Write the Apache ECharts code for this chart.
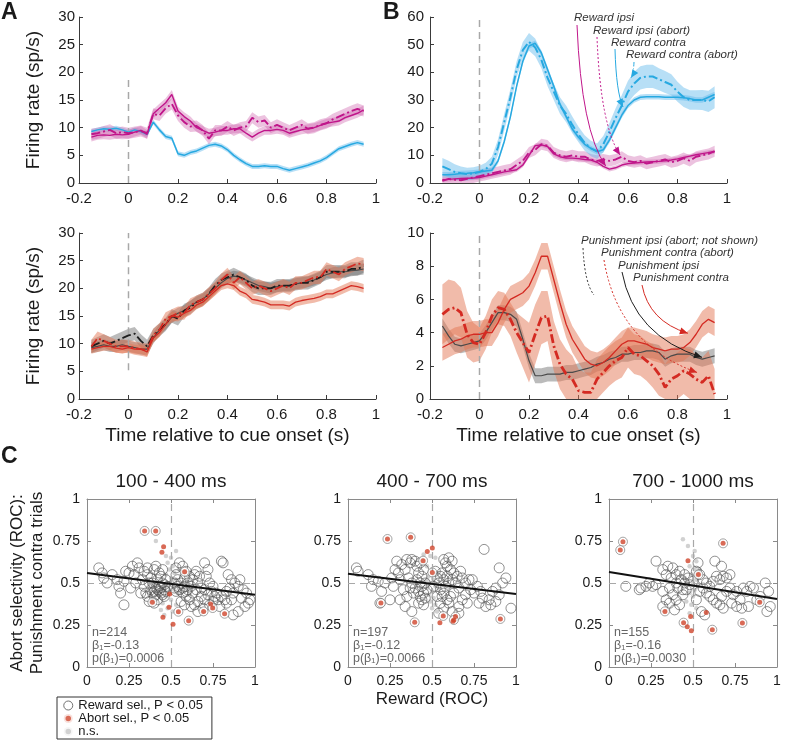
<!DOCTYPE html>
<html><head><meta charset="utf-8">
<script src="https://cdn.jsdelivr.net/npm/echarts@6/dist/echarts.min.js"></script>
<style>html,body{margin:0;padding:0;background:#fff}#c{width:788px;height:744px}</style>
</head><body><div id="c"></div>
<script>
// ---------- time axis ----------
const T = [-0.15,-0.125,-0.1,-0.075,-0.05,-0.025,0,0.025,0.05,0.075,
  0.1,0.125,0.15,0.175,0.2,0.225,0.25,0.275,0.3,0.325,
  0.35,0.375,0.4,0.425,0.45,0.475,0.5,0.525,0.55,0.575,
  0.6,0.625,0.65,0.675,0.7,0.725,0.75,0.775,0.8,0.825,
  0.85,0.875,0.9,0.925,0.95];

// ---------- Panel A top (reward) ----------
const aBlue = [9.3,9.6,9.8,9.7,9.9,9.6,9.2,9.6,9.3,8.8,
  11.0,9.6,8.4,8.1,5.3,5.0,5.5,5.8,6.3,6.8,
  7.0,6.7,6.0,5.0,4.2,3.5,3.0,3.0,3.1,3.0,
  3.0,2.6,2.3,2.6,2.9,3.2,3.6,4.0,4.6,5.4,
  6.2,6.6,7.0,7.3,7.0];
const aMagS = [8.3,8.6,8.7,8.6,8.8,8.7,8.8,9.2,9.5,8.8,
  12.5,13.5,14.5,16.0,13.0,12.0,11.2,10.0,9.5,9.0,
  9.2,9.5,9.5,9.8,9.8,9.0,8.3,9.0,9.5,9.5,
  9.7,9.5,9.0,9.3,9.6,9.8,10.0,10.4,10.8,11.0,
  11.2,11.8,12.2,12.6,13.2];
const aMagD = [8.8,9.0,9.3,9.6,9.0,9.2,9.0,9.2,9.4,9.0,
  12.5,12.2,13.5,14.3,12.2,11.0,10.2,10.3,9.5,8.0,
  9.5,9.5,10.2,9.5,10.0,10.2,11.8,11.0,11.3,10.0,
  10.5,10.0,9.5,10.0,10.5,9.8,10.0,10.5,10.8,11.5,
  12.0,12.5,13.0,13.4,13.0];
const aBlueBand = 0.45, aMagSBand = 0.8, aMagDBand = 1.0;

// ---------- Panel B top (reward) ----------
const bBlueS = [3.0,3.0,3.2,3.4,3.5,3.7,4.0,4.3,4.6,8.0,
  15.0,24.0,35.0,44.0,49.5,50.5,47.0,41.0,35.0,28.5,
  24.0,19.5,16.5,14.0,12.5,11.3,12.0,15.5,20.0,24.5,
  28.0,30.0,31.0,31.2,31.2,31.2,31.0,31.0,31.0,30.8,
  30.5,30.0,30.0,31.0,32.0];
const bBlueD = [6.0,5.0,4.0,3.5,3.2,3.5,4.0,5.0,7.0,13.0,
  22.0,31.0,41.0,48.0,51.0,49.0,44.5,38.0,33.0,28.0,
  25.0,21.0,17.5,14.5,12.5,11.5,14.0,18.5,23.5,28.0,
  33.0,36.0,38.0,38.5,38.5,37.5,36.5,35.5,33.0,31.0,
  30.0,30.0,30.0,29.5,31.0];
const bMagS = [1.2,1.3,1.5,1.6,1.7,1.8,2.0,2.5,3.0,3.5,
  4.0,4.4,4.8,6.5,10.0,13.5,13.8,13.2,10.5,9.5,
  9.0,9.0,8.8,8.5,8.3,7.5,6.0,5.0,5.5,6.5,
  7.0,7.2,7.4,7.6,7.7,7.8,8.0,8.3,8.7,9.2,
  9.7,10.2,10.6,11.0,11.3];
const bMagD = [0.8,1.5,1.2,1.0,1.5,2.0,2.5,3.0,3.5,4.0,
  4.5,5.0,6.5,8.0,11.0,12.0,14.0,13.5,11.0,10.0,
  9.5,10.0,9.5,9.5,8.5,8.0,8.5,8.0,8.5,9.5,
  8.0,7.5,8.0,7.0,7.5,8.0,8.5,7.5,8.0,9.0,
  8.0,9.5,10.0,10.5,11.5];
const bBlueSBand = 1.0, bMagSBand = 0.8, bMagDBand = 2.0;
const bBlueDBand = [3.0,3.0,2.8,2.5,2.3,2.2,2.2,2.3,2.5,2.8,
  3.0,3.0,3.0,3.0,3.2,3.2,3.0,3.0,3.0,3.0,
  3.0,3.0,2.8,2.8,2.8,2.8,3.0,3.2,3.5,3.8,
  4.0,4.2,4.2,4.2,4.2,4.0,4.0,3.8,3.6,3.5,
  3.5,3.5,3.6,3.8,4.0];

// ---------- Panel A bottom (punishment) ----------
const aGrayS = [9.3,9.5,9.8,9.5,9.5,9.8,9.5,9.3,9.0,9.0,
  11.0,12.5,13.5,14.8,15.5,16.0,16.8,17.5,18.0,19.0,
  20.0,21.0,21.8,22.2,22.0,21.5,21.0,20.5,20.3,20.0,
  20.3,20.5,20.5,20.8,21.0,21.2,21.5,22.0,22.5,22.8,
  23.0,23.0,23.2,23.3,23.5];
const aBlackD = [9.5,10.0,10.5,10.0,10.5,11.0,11.5,11.8,10.5,9.5,
  11.5,12.5,13.5,15.0,14.5,16.0,16.5,17.5,18.0,19.0,
  20.5,21.5,22.0,22.5,22.0,21.5,20.5,20.0,20.0,20.0,
  20.5,20.5,20.5,20.8,21.0,21.0,21.5,22.0,23.0,23.0,
  23.0,23.0,23.5,23.5,24.0];
const aRedD = [9.5,11.0,10.5,10.0,9.5,9.5,9.5,9.2,9.0,8.8,
  11.5,12.5,14.5,15.0,15.5,15.5,17.0,17.5,18.0,19.0,
  20.0,21.5,22.5,21.0,22.0,21.0,20.0,20.5,20.0,19.5,
  20.0,20.5,20.0,21.0,21.0,21.5,22.0,22.0,23.5,23.0,
  22.5,23.5,24.0,24.5,24.3];
const aRedS = [9.0,9.3,9.5,9.5,9.2,9.0,9.3,9.0,9.0,8.5,
  11.0,12.0,13.5,15.0,14.8,15.5,16.0,17.0,17.5,18.5,
  19.5,20.5,20.8,20.5,19.5,19.0,18.0,17.8,17.5,17.0,
  17.0,17.0,16.8,17.5,17.8,18.0,18.2,18.5,19.0,19.0,
  19.5,20.0,20.5,20.3,20.0];
const aGraySBand = 1.0, aBlackDBand = 1.2, aRedDBand = 1.2, aRedSBand = 0.8;

// ---------- Panel B bottom (punishment) ----------
const bRedS = [3.1,3.3,3.5,3.6,3.8,3.9,3.9,4.0,4.0,4.6,
  5.4,6.0,6.2,6.4,6.8,7.6,8.6,8.6,7.2,5.8,
  4.5,3.6,3.0,2.4,2.1,2.0,2.2,2.5,2.9,3.3,
  3.5,3.5,3.4,3.3,3.1,3.0,2.9,3.0,3.0,3.1,
  3.4,3.9,4.5,4.8,4.6];
const bGrayS = [4.4,3.8,3.3,3.2,3.3,3.4,3.5,4.0,4.6,5.2,
  5.2,5.1,4.8,3.6,2.3,1.4,1.4,1.5,1.5,1.5,
  1.6,1.6,1.7,1.8,1.9,2.1,2.2,2.4,2.5,2.7,
  2.7,2.8,2.8,2.9,2.9,2.8,2.4,2.6,2.7,2.7,
  2.7,2.5,2.4,2.5,2.6];
const bRedD = [5.1,5.4,5.5,5.2,3.9,3.4,3.3,4.0,5.0,5.5,
  5.4,4.8,4.0,3.4,2.8,3.9,4.9,5.0,3.2,2.1,
  1.5,1.2,0.5,0.4,0.4,1.2,1.6,2.0,2.3,2.5,
  3.1,2.7,2.6,2.3,2.0,1.5,0.7,1.2,1.4,1.7,
  1.5,1.2,1.0,1.4,0.3];
const bRedDBand = [1.8,1.8,1.6,1.5,1.4,1.2,1.0,1.0,1.0,1.0,
  1.0,1.0,1.2,1.5,1.8,1.8,1.6,1.5,1.5,1.5,
  1.5,1.4,1.3,1.2,1.2,1.2,1.2,1.2,1.2,1.2,
  1.2,1.2,1.2,1.2,1.3,1.3,1.4,1.4,1.4,1.4,
  1.5,1.5,1.5,1.5,1.5];
const bRedSBand = 0.8, bGraySBand = 0.45;

// cue-onset marker extents [yFrom, yTo]
const cueA1 = [0, 19.3], cueB1 = [0, 60], cueA2 = [5.2, 30], cueB2 = [0, 10];

// ---------- Panel C scatter ----------
const cTitles = ['100 - 400 ms', '400 - 700 ms', '700 - 1000 ms'];
const cN = [214, 197, 155];
const cBeta0 = [0.56, 0.555, 0.565];
const cBeta1 = [-0.13, -0.12, -0.16];
const cPval = ['0.0006', '0.0066', '0.0030'];

const c1Reward = [[0.07,0.59],[0.09,0.56],[0.10,0.53],[0.12,0.50],[0.15,0.55],[0.18,0.52],[0.19,0.48],[0.20,0.44],[0.22,0.51],[0.22,0.37],
 [0.23,0.57],[0.25,0.56],[0.26,0.47],[0.27,0.60],[0.28,0.55],[0.29,0.50],[0.30,0.62],[0.31,0.59],[0.32,0.44],[0.33,0.52],
 [0.34,0.57],[0.34,0.48],[0.35,0.44],[0.36,0.55],[0.36,0.42],[0.36,0.59],[0.37,0.50],[0.37,0.39],[0.38,0.46],[0.38,0.53],
 [0.39,0.44],[0.39,0.50],[0.40,0.42],[0.40,0.38],[0.40,0.58],[0.41,0.47],[0.41,0.60],[0.41,0.43],[0.42,0.52],[0.42,0.40],
 [0.43,0.56],[0.43,0.48],[0.43,0.45],[0.44,0.54],[0.44,0.44],[0.45,0.50],[0.45,0.58],[0.45,0.43],[0.46,0.46],[0.46,0.42],
 [0.47,0.52],[0.47,0.45],[0.48,0.48],[0.44,0.47],[0.46,0.49],[0.42,0.46],[0.40,0.45],
 [0.52,0.50],[0.53,0.59],[0.53,0.45],[0.53,0.55],[0.54,0.52],[0.55,0.62],[0.55,0.46],[0.56,0.50],[0.56,0.39],[0.57,0.60],
 [0.57,0.44],[0.58,0.48],[0.58,0.37],[0.58,0.53],[0.59,0.57],[0.59,0.42],[0.60,0.46],[0.60,0.50],[0.61,0.54],[0.61,0.40],
 [0.62,0.48],[0.62,0.36],[0.63,0.52],[0.63,0.44],[0.64,0.37],[0.64,0.55],[0.65,0.46],[0.65,0.57],[0.66,0.50],[0.66,0.39],
 [0.66,0.33],[0.67,0.54],[0.68,0.47],[0.68,0.42],[0.69,0.35],[0.70,0.62],[0.70,0.46],[0.70,0.40],[0.71,0.54],[0.72,0.58],
 [0.72,0.43],[0.73,0.50],[0.73,0.37],[0.74,0.45],[0.75,0.48],[0.75,0.39],[0.76,0.42],[0.77,0.44],[0.78,0.40],[0.79,0.36],
 [0.52,0.47],[0.54,0.48],[0.57,0.47],[0.59,0.45],
 [0.80,0.63],[0.80,0.42],[0.81,0.62],[0.82,0.40],[0.83,0.45],[0.83,0.38],[0.84,0.55],[0.85,0.47],[0.86,0.52],[0.86,0.40],
 [0.87,0.44],[0.87,0.31],[0.88,0.50],[0.90,0.48],[0.90,0.33],[0.91,0.52],[0.92,0.41],[0.93,0.46],[0.94,0.36],[0.95,0.44],
 [0.96,0.38],[0.97,0.40]];
const c1Both = [[0.343,0.810],[0.409,0.810],[0.581,0.567],[0.389,0.385],[0.544,0.329],[0.605,0.276],[0.694,0.331],[0.748,0.351],[0.819,0.317]];
const c1AbortOnly = [[0.456,0.716],[0.446,0.683],[0.492,0.435],[0.488,0.355],[0.452,0.296],[0.512,0.254],[0.736,0.375]];
const c1NS = [[0.41,0.75],[0.53,0.69],[0.48,0.62],[0.51,0.60],[0.49,0.58],[0.52,0.56],[0.47,0.55],[0.50,0.53],[0.53,0.52],[0.48,0.50],
 [0.51,0.49],[0.46,0.47],[0.52,0.46],[0.49,0.45],[0.54,0.44],[0.47,0.42],[0.50,0.40],[0.45,0.38],[0.53,0.37],[0.48,0.35],
 [0.51,0.33],[0.46,0.31],[0.44,0.34],[0.55,0.58],[0.50,0.65],[0.47,0.66]];

const c2Reward = [[0.05,0.59],[0.06,0.57],[0.12,0.55],[0.15,0.52],[0.14,0.48],[0.18,0.51],[0.20,0.45],[0.22,0.50],[0.19,0.38],[0.25,0.40],
 [0.27,0.48],[0.26,0.53],[0.30,0.56],[0.31,0.52],[0.28,0.58],[0.29,0.63],[0.32,0.61],[0.34,0.58],[0.35,0.64],[0.37,0.62],
 [0.38,0.64],[0.40,0.63],[0.41,0.60],[0.43,0.62],[0.42,0.56],[0.36,0.53],[0.38,0.50],[0.40,0.47],[0.42,0.45],[0.43,0.42],
 [0.44,0.40],[0.45,0.44],[0.44,0.48],[0.46,0.50],[0.41,0.52],[0.39,0.44],[0.33,0.46],[0.35,0.42],[0.34,0.36],[0.38,0.33],
 [0.42,0.38],[0.45,0.37],[0.46,0.41],[0.47,0.46],[0.43,0.50],[0.31,0.40],[0.37,0.47],[0.44,0.54],[0.45,0.58],
 [0.52,0.57],[0.53,0.53],[0.54,0.50],[0.55,0.54],[0.56,0.56],[0.57,0.52],[0.58,0.48],[0.60,0.50],[0.59,0.54],[0.61,0.58],
 [0.63,0.56],[0.62,0.52],[0.64,0.50],[0.65,0.54],[0.66,0.47],[0.63,0.44],[0.61,0.42],[0.59,0.40],[0.57,0.44],[0.55,0.46],
 [0.53,0.42],[0.55,0.38],[0.57,0.35],[0.60,0.38],[0.62,0.63],[0.59,0.60],[0.57,0.64],[0.60,0.65],[0.58,0.62],[0.67,0.57],
 [0.68,0.53],[0.70,0.50],[0.72,0.52],[0.73,0.46],[0.70,0.43],[0.68,0.40],[0.66,0.36],[0.71,0.38],[0.75,0.44],[0.77,0.48],
 [0.79,0.45],[0.80,0.41],[0.78,0.38],[0.82,0.36],[0.84,0.40],[0.86,0.45],[0.88,0.47],[0.90,0.43],[0.88,0.39],[0.85,0.37],
 [0.92,0.50],[0.94,0.53],[0.97,0.35],[0.90,0.59],[0.81,0.70],[0.74,0.52],[0.62,0.33],[0.54,0.32],[0.66,0.32],[0.51,0.48],[0.56,0.42]];
const c2Both = [[0.235,0.762],[0.373,0.772],[0.447,0.633],[0.502,0.563],[0.196,0.381],[0.397,0.266],[0.567,0.304],[0.640,0.300],[0.630,0.280],[0.907,0.286]];
const c2AbortOnly = [[0.472,0.688],[0.502,0.708],[0.547,0.264],[0.625,0.272]];
const c2NS = [[0.45,0.67],[0.49,0.66],[0.52,0.65],[0.47,0.60],[0.50,0.58],[0.53,0.56],[0.48,0.54],[0.51,0.52],[0.49,0.50],[0.52,0.48],
 [0.47,0.47],[0.50,0.45],[0.48,0.43],[0.51,0.41],[0.49,0.39],[0.52,0.37],[0.50,0.35],[0.53,0.33],[0.47,0.52],[0.54,0.46]];

const c3Reward = [[0.10,0.48],[0.18,0.46],[0.19,0.47],[0.22,0.48],[0.24,0.50],[0.26,0.48],[0.28,0.49],[0.28,0.63],[0.32,0.58],[0.35,0.60],
 [0.38,0.59],[0.40,0.55],[0.42,0.57],[0.43,0.52],[0.40,0.50],[0.37,0.53],[0.34,0.55],[0.36,0.47],[0.38,0.43],[0.40,0.40],
 [0.42,0.37],[0.44,0.43],[0.46,0.46],[0.41,0.47],[0.45,0.50],[0.45,0.55],[0.47,0.53],[0.48,0.49],[0.44,0.46],[0.32,0.45],
 [0.34,0.40],[0.36,0.38],[0.39,0.34],[0.32,0.36],
 [0.52,0.57],[0.54,0.55],[0.56,0.52],[0.58,0.50],[0.60,0.48],[0.62,0.51],[0.64,0.54],[0.66,0.52],[0.68,0.54],[0.70,0.53],
 [0.72,0.55],[0.63,0.63],[0.67,0.60],[0.56,0.47],[0.58,0.44],[0.60,0.42],[0.62,0.40],[0.64,0.38],[0.66,0.37],[0.68,0.35],
 [0.67,0.42],[0.70,0.45],[0.72,0.47],[0.74,0.43],[0.76,0.45],[0.78,0.40],[0.76,0.36],[0.73,0.38],[0.80,0.47],[0.82,0.45],
 [0.84,0.48],[0.86,0.47],[0.88,0.40],[0.90,0.42],[0.93,0.50],[0.95,0.45],[0.96,0.36],[0.94,0.33],[0.83,0.36],[0.79,0.35],
 [0.55,0.33],[0.57,0.31],[0.52,0.40],[0.54,0.45],[0.50,0.51],[0.53,0.62]];
const c3Both = [[0.083,0.746],[0.067,0.696],[0.679,0.736],[0.532,0.550],[0.333,0.331],[0.444,0.264],[0.615,0.222],[0.794,0.262],[0.897,0.385]];
const c3AbortOnly = [[0.470,0.633],[0.486,0.300],[0.466,0.240],[0.490,0.216],[0.579,0.325]];
const c3NS = [[0.44,0.76],[0.47,0.72],[0.51,0.69],[0.50,0.66],[0.52,0.63],[0.48,0.60],[0.51,0.58],[0.53,0.56],[0.49,0.55],[0.52,0.52],
 [0.50,0.50],[0.47,0.49],[0.53,0.48],[0.51,0.46],[0.48,0.44],[0.50,0.42],[0.46,0.39],[0.49,0.37],[0.52,0.35],[0.48,0.32],[0.54,0.58],[0.45,0.53]];

const legendNames = ['Reward sel., P < 0.05', 'Abort sel., P < 0.05', 'n.s.'];

// ---------- styles ----------
const FONT = '"Liberation Sans", Arial, Helvetica, sans-serif';
const TXT = '#1a1a1a', AX = '#3a3a3a', BOX = '#8a8a8a';
const BLUE = '#27a9e1', MAG = '#c0158a', RED = '#d42a22', GRAY = '#4a4a4a', BLACK = '#1e1e1e';
const BLUE_B = 'rgba(95,185,235,0.45)', MAG_B = 'rgba(205,95,170,0.38)', RED_B = 'rgba(228,120,85,0.5)', GRAY_B = 'rgba(105,105,105,0.45)';
const DASHDOT = [9, 3, 2, 3];
const RED_DOT = '#cf452c', GRAY_DOT = '#c6c6c6';

const chart = echarts.init(document.getElementById('c'));

const grids = [
  {left:79, top:17, width:297, height:166},
  {left:430, top:17, width:297, height:166},
  {left:79, top:233, width:297, height:166},
  {left:430, top:233, width:297, height:166},
  {left:87, top:499, width:168, height:168},
  {left:348, top:499, width:168, height:168},
  {left:609, top:499, width:168, height:168}
];
const yMaxes = [30, 60, 30, 10];

function tsX(gi, name) {
  return {gridIndex:gi, type:'value', min:-0.2, max:1, interval:0.2,
    axisLine:{onZero:false, lineStyle:{color:AX}}, axisTick:{inside:true, length:4, lineStyle:{color:AX}},
    axisLabel:{fontSize:15, color:TXT, margin:8, fontFamily:FONT}, splitLine:{show:false},
    name:name||'', nameLocation:'middle', nameGap:27, nameTextStyle:{fontSize:19, color:TXT, fontFamily:FONT}};
}
function tsY(gi, max, interval, name, margin) {
  return {gridIndex:gi, type:'value', min:0, max:max, interval:interval,
    axisLine:{show:true, onZero:false, lineStyle:{color:AX}}, axisTick:{show:true, inside:true, length:4, lineStyle:{color:AX}},
    axisLabel:{fontSize:15, color:TXT, margin:margin, fontFamily:FONT}, splitLine:{show:false},
    name:name||'', nameLocation:'middle', nameGap:36, nameTextStyle:{fontSize:19, color:TXT, fontFamily:FONT}};
}
function scAxis(gi, pos, showLabel, name, nameGap) {
  return {gridIndex:gi, type:'value', min:0, max:1, interval:0.25, position:pos,
    axisLine:{show:true, onZero:false, lineStyle:{color:BOX}}, axisTick:{show:true, inside:true, length:4, lineStyle:{color:BOX}},
    axisLabel:{show:showLabel, fontSize:14, color:TXT, margin:7, fontFamily:FONT}, splitLine:{show:false},
    name:name||'', nameLocation:'middle', nameGap:nameGap||20, nameTextStyle:{fontSize:17, color:TXT, fontFamily:FONT, lineHeight:20}};
}

const xAxes = [tsX(0), tsX(1), tsX(2,'Time relative to cue onset (s)'), tsX(3,'Time relative to cue onset (s)'),
  scAxis(4,'bottom',true), scAxis(5,'bottom',true,'Reward (ROC)',21), scAxis(6,'bottom',true),
  scAxis(4,'top',false), scAxis(5,'top',false), scAxis(6,'top',false)];
const yAxes = [tsY(0,30,5,'Firing rate (sp/s)',4), tsY(1,60,10,'',6), tsY(2,30,5,'Firing rate (sp/s)',4), tsY(3,10,2,'',6),
  scAxis(4,'left',true,'Abort selectivity (ROC):\nPunishment contra trials',40), scAxis(5,'left',true), scAxis(6,'left',true),
  scAxis(4,'right',false), scAxis(5,'right',false), scAxis(6,'right',false)];

const series = [];
const curves = [
  {g:0, m:aBlue, hw:aBlueBand, c:BLUE, bc:BLUE_B, d:'solid', w:1.5},
  {g:0, m:aMagS, hw:aMagSBand, c:MAG, bc:MAG_B, d:'solid', w:1.4},
  {g:0, m:aMagD, hw:aMagDBand, c:MAG, bc:MAG_B, d:DASHDOT, w:1.9},
  {g:1, m:bMagS, hw:bMagSBand, c:MAG, bc:MAG_B, d:'solid', w:1.4},
  {g:1, m:bMagD, hw:bMagDBand, c:MAG, bc:MAG_B, d:DASHDOT, w:1.9},
  {g:1, m:bBlueS, hw:bBlueSBand, c:BLUE, bc:BLUE_B, d:'solid', w:1.5},
  {g:1, m:bBlueD, hw:bBlueDBand, c:BLUE, bc:BLUE_B, d:DASHDOT, w:2},
  {g:2, m:aGrayS, hw:aGraySBand, c:GRAY, bc:GRAY_B, d:'solid', w:1.2},
  {g:2, m:aBlackD, hw:aBlackDBand, c:BLACK, bc:GRAY_B, d:DASHDOT, w:1.8},
  {g:2, m:aRedD, hw:aRedDBand, c:RED, bc:RED_B, d:DASHDOT, w:1.8},
  {g:2, m:aRedS, hw:aRedSBand, c:RED, bc:RED_B, d:'solid', w:1.3},
  {g:3, m:bGrayS, hw:bGraySBand, c:GRAY, bc:GRAY_B, d:'solid', w:1.2},
  {g:3, m:bRedD, hw:bRedDBand, c:RED, bc:RED_B, d:DASHDOT, w:2.8},
  {g:3, m:bRedS, hw:bRedSBand, c:RED, bc:RED_B, d:'solid', w:1.3}
];
// error bands: polygons through the axis scales
curves.forEach(cv => {
  const ymax = yMaxes[cv.g];
  const clamp = v => Math.max(0, Math.min(ymax, v));
  series.push({type:'custom', xAxisIndex:cv.g, yAxisIndex:cv.g, silent:true, z:1,
    data:[[T[0], cv.m[0]]],
    renderItem: function (params, api) {
      const up = [], lo = [];
      for (let i = 0; i < T.length; i++) {
        const h = Array.isArray(cv.hw) ? cv.hw[i] : cv.hw;
        up.push(api.coord([T[i], clamp(cv.m[i] + h)]));
        lo.push(api.coord([T[i], clamp(cv.m[i] - h)]));
      }
      return {type:'polygon', shape:{points:up.concat(lo.reverse())}, style:{fill:cv.bc}};
    }});
});
curves.forEach(cv => {
  series.push({type:'line', xAxisIndex:cv.g, yAxisIndex:cv.g, symbol:'none', silent:true,
    lineStyle:{color:cv.c, width:cv.w, type:cv.d}, data:T.map((t,i) => [t, cv.m[i]]), z:3});
});
[cueA1, cueB1, cueA2, cueB2].forEach((cue, g) => {
  series.push({type:'line', xAxisIndex:g, yAxisIndex:g, symbol:'none', silent:true,
    lineStyle:{color:'#a8a8a8', width:1.5, type:[7,5]}, data:[[0,cue[0]],[0,cue[1]]], z:2});
});

const cReward = [c1Reward, c2Reward, c3Reward];
const cBoth = [c1Both, c2Both, c3Both];
const cAbort = [c1AbortOnly, c2AbortOnly, c3AbortOnly];
const cNS = [c1NS, c2NS, c3NS];
for (let k = 0; k < 3; k++) {
  const ax = 4 + k;
  series.push({type:'scatter', name:legendNames[2], xAxisIndex:ax, yAxisIndex:ax, data:cNS[k], symbolSize:4.5,
    itemStyle:{color:GRAY_DOT}, silent:true, z:2,
    markLine:{silent:true, symbol:'none', label:{show:false}, lineStyle:{color:'#a8a8a8', type:[7,5], width:1.2},
      data:[{xAxis:0.5},{yAxis:0.5}]}});
  series.push({type:'scatter', name:legendNames[0], xAxisIndex:ax, yAxisIndex:ax, data:cReward[k], symbolSize:10,
    itemStyle:{color:'rgba(0,0,0,0)', borderColor:'#505050', borderWidth:0.8}, silent:true, z:3});
  series.push({type:'scatter', name:'both', xAxisIndex:ax, yAxisIndex:ax, data:cBoth[k], symbolSize:9,
    itemStyle:{color:'#ffffff', borderColor:'#707070', borderWidth:0.8}, silent:true, z:4});
  series.push({type:'scatter', name:legendNames[1], xAxisIndex:ax, yAxisIndex:ax, data:cBoth[k].concat(cAbort[k]), symbolSize:5,
    itemStyle:{color:RED_DOT}, silent:true, z:5});
  series.push({type:'line', xAxisIndex:ax, yAxisIndex:ax, symbol:'none', silent:true,
    lineStyle:{color:'#111', width:2}, data:[[0, cBeta0[k]], [1, cBeta0[k] + cBeta1[k]]], z:6});
}

const option = {
  animation:false,
  textStyle:{fontFamily:FONT},
  grid:grids,
  xAxis:xAxes,
  yAxis:yAxes,
  legend:{left:57, top:697, height:80, orient:'vertical', itemGap:0, itemWidth:10, itemHeight:9, padding:[2,9,1,5],
    borderColor:'#333', borderWidth:1, backgroundColor:'#fff', selectedMode:false,
    textStyle:{fontSize:13, color:TXT, fontFamily:FONT, lineHeight:13},
    data:[
      {name:legendNames[0], icon:'circle', itemStyle:{color:'#fff', borderColor:'#505050', borderWidth:1}},
      {name:legendNames[1], icon:'circle', itemStyle:{color:RED_DOT, borderColor:'#fff', borderWidth:3.5}},
      {name:legendNames[2], icon:'circle', itemStyle:{color:GRAY_DOT, borderColor:'#fff', borderWidth:3.5}}
    ]},
  series:series
};
chart.setOption(option);

// ---------- annotations ----------
const annB1 = [
  {text:'Reward ipsi', tx:574, ty:18, sx:577, sy:25, end:[0.51,6.1], c:MAG, d:[], w:1, head:true},
  {text:'Reward ipsi (abort)', tx:593, ty:31, sx:597, sy:37, end:[0.568,10.1], c:MAG, d:[2,2], w:1, head:true},
  {text:'Reward contra', tx:611, ty:43, sx:615, sy:49, end:[0.58,27.5], c:BLUE, d:[], w:1, head:true},
  {text:'Reward contra (abort)', tx:626, ty:55, sx:634, sy:62, end:[0.612,38], c:BLUE, d:[4,2,1,2], w:1, head:true}
];
const annB2 = [
  {text:'Punishment ipsi (abort; not shown)', tx:581, ty:241, sx:583, sy:248, endPx:[594,295], c:'#333', d:[2,2], w:1, head:false},
  {text:'Punishment contra (abort)', tx:601, ty:253, sx:604, sy:260, end:[0.879,1.6], c:RED, d:[2,2], w:1, head:true},
  {text:'Punishment ipsi', tx:618, ty:266, sx:622, sy:272, end:[0.899,2.51], c:BLACK, d:[], w:1, head:true},
  {text:'Punishment contra', tx:633, ty:278, sx:642, sy:285, end:[0.842,3.96], c:RED, d:[], w:1, head:true}
];

function txt(x, y, s, size, opts) {
  opts = opts || {};
  return {type:'text', x:x, y:y, silent:true, z:100, style:{text:s, fontSize:size, fontFamily:FONT,
    fontWeight:opts.weight||'normal', fontStyle:opts.style||'normal', fill:opts.fill||TXT,
    align:opts.align||'left', verticalAlign:opts.va||'middle', textAlign:opts.align||'left', textVerticalAlign:opts.va||'middle'}};
}

const graphics = [];
graphics.push(txt(1, 13, 'A', 23, {weight:'bold'}));
graphics.push(txt(383, 13, 'B', 23, {weight:'bold'}));
graphics.push(txt(1, 457, 'C', 23, {weight:'bold'}));
for (let k = 0; k < 3; k++) {
  const g = grids[4 + k];
  graphics.push(txt(g.left + g.width/2, 482, cTitles[k], 19, {align:'center'}));
  graphics.push(txt(g.left + 5, 633, 'n=' + cN[k], 12.5, {fill:'#666'}));
  graphics.push(txt(g.left + 5, 646, 'β\u2081=' + cBeta1[k].toFixed(2), 12.5, {fill:'#666'}));
  graphics.push(txt(g.left + 5, 659, 'p(β\u2081)=' + cPval[k], 12.5, {fill:'#666'}));
}

function addAnn(list, gi) {
  list.forEach(a => {
    graphics.push(txt(a.tx, a.ty, a.text, 11.5, {style:'italic', fill:'#333'}));
    const e = a.end ? chart.convertToPixel({gridIndex:gi}, a.end) : a.endPx;
    const cx = a.sx + 0.15*(e[0]-a.sx), cy = a.sy + 0.75*(e[1]-a.sy);
    graphics.push({type:'bezierCurve', silent:true, z:99,
      shape:{x1:a.sx, y1:a.sy, x2:e[0], y2:e[1], cpx1:cx, cpy1:cy},
      style:{stroke:a.c, lineWidth:a.w, lineDash:a.d, fill:null}});
    if (a.head) {
      let dx = e[0]-cx, dy = e[1]-cy; const L = Math.hypot(dx,dy) || 1; dx/=L; dy/=L;
      const bx = e[0]-dx*8, by = e[1]-dy*8, px = -dy*3.5, py = dx*3.5;
      graphics.push({type:'polygon', silent:true, z:99, shape:{points:[[e[0],e[1]],[bx+px,by+py],[bx-px,by-py]]}, style:{fill:a.c}});
    }
  });
}
addAnn(annB1, 1);
addAnn(annB2, 3);
chart.setOption({graphic:{elements:graphics}});
</script></body></html>
